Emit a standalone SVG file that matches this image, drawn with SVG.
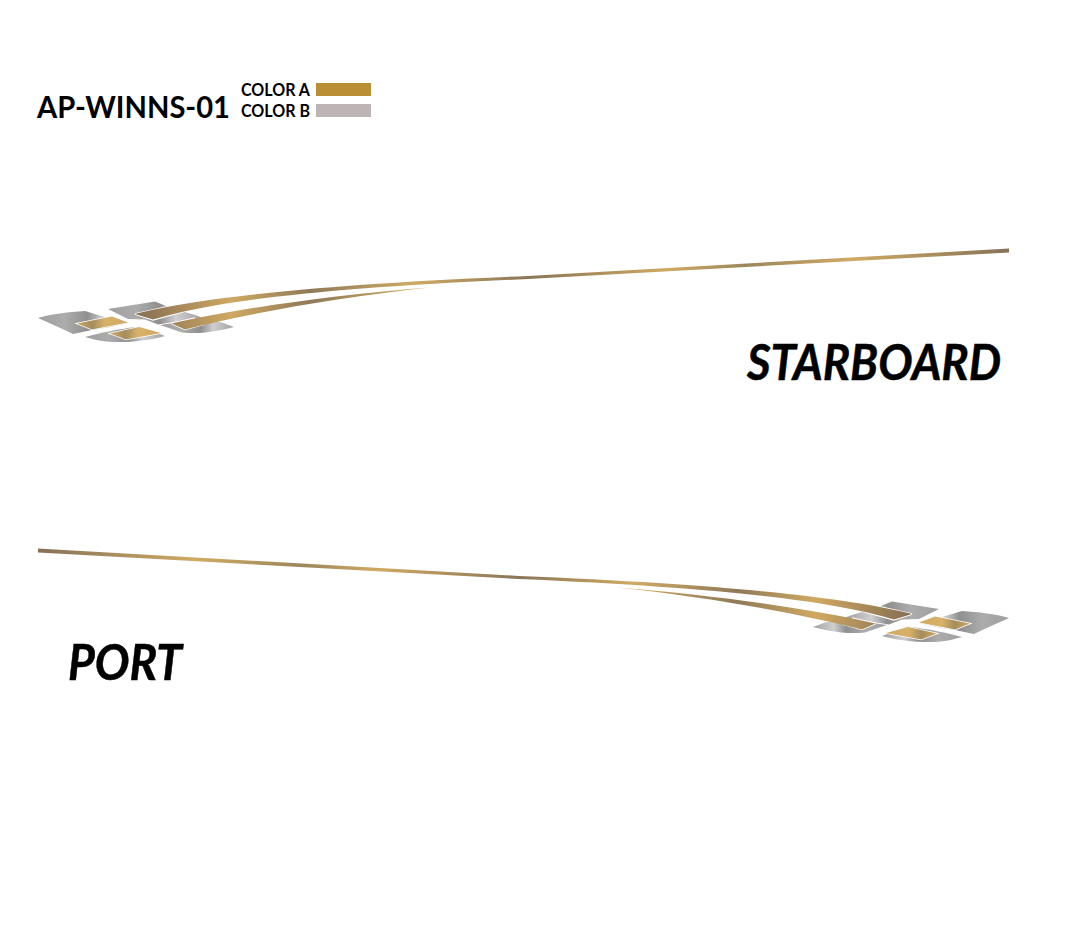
<svg xmlns="http://www.w3.org/2000/svg" xmlns:xlink="http://www.w3.org/1999/xlink" width="1065" height="942" viewBox="0 0 1065 942">
<style>
text{font-family:"Lato","Open Sans","Liberation Sans",sans-serif;font-weight:700;fill:#000}
.big{font-size:50px;font-style:italic;font-weight:700;stroke:#000;stroke-width:.5}
.silver{fill:url(#silver)}
.gold{fill:url(#gold)}
.outline{fill:none;stroke:#fff;stroke-width:1.6}
.inlay{fill:url(#inlay);stroke:#fff;stroke-width:1.6;paint-order:stroke}
</style>
<defs>
<linearGradient id="silver" x1="0" y1="0" x2="1" y2="0">
<stop offset="0" stop-color="#9e9e9e"/><stop offset=".3" stop-color="#acacac"/><stop offset=".55" stop-color="#8f8f8f"/><stop offset=".72" stop-color="#cfcfcf"/><stop offset="1" stop-color="#a0a0a0"/>
</linearGradient>
<linearGradient id="inlay" x1="0" y1="0" x2="1" y2="0">
<stop offset="0" stop-color="#cfa962"/><stop offset=".3" stop-color="#a58c5e"/><stop offset=".55" stop-color="#d8b268"/><stop offset="1" stop-color="#cfa962"/>
</linearGradient>
<linearGradient id="gold" gradientUnits="userSpaceOnUse" x1="135" y1="0" x2="1009" y2="0">
<stop offset="0" stop-color="#836d53"/><stop offset=".11" stop-color="#cfa962"/><stop offset=".2" stop-color="#8f7a58"/><stop offset=".32" stop-color="#d0aa63"/><stop offset=".45" stop-color="#8a7558"/><stop offset=".61" stop-color="#cfa962"/><stop offset=".7" stop-color="#9c865c"/><stop offset=".82" stop-color="#d0aa62"/><stop offset="1" stop-color="#85725a"/>
</linearGradient>
<g id="graphic">
<path class="silver" d="M38 318 C52 314 68 312 85 311 L105 317 L128 323 L108 327.5 L92 330 L73 334 C62 329 50 323 38 318Z"/>
<path class="silver" d="M85 337 C100 333 118 329 140 326.5 L165 336 C150 340 135 342 118 342 C105 342 95 340 85 337Z"/>
<path class="silver" d="M108 309 L155 301.5 L170 307.5 L195 315 L202 317.5 L158 324.5 L145 319.5 L128 319Z"/>
<path class="silver" d="M160 325 L202 319 L222 322.5 L234 327 C218 331 205 333 195 333 C190 333 186 333 182 332.5Z"/>
<path class="outline" d="M135 314 L153 320 L200 307 M171.5 323.5 L185 329.5 L205 324 M171.5 323.5 L195 318 M135 314 L175 305"/>
<path class="gold" d="M135 314 C190 300 300 285 528 276 L1009 248.5 L1009 252.5 L528 279 C320 288 215 301 153 319.5Z"/>
<path class="gold" d="M171.5 323.5 C230 310 330 295 430 287.5 C340 297 250 313 185 329.5Z"/>
<path class="inlay" d="M77 323.5 L112 316.5 L128 322.5 L92 329.5Z"/>
<path class="inlay" d="M110 333.5 L139 327 L161 333 L126 339.5Z"/>
</g>
</defs>
<g id="legend">
<text x="37" y="118" font-size="30" textLength="193" lengthAdjust="spacingAndGlyphs">AP-WINNS-01</text>
<text x="241" y="95.500" font-size="16.500" textLength="69" lengthAdjust="spacingAndGlyphs">COLOR A</text>
<text x="241" y="116.500" font-size="16.500" textLength="69" lengthAdjust="spacingAndGlyphs">COLOR B</text>
<rect x="316" y="83" width="55" height="13" fill="#ba8e35"/>
<rect x="316" y="104" width="55" height="13" fill="#bdb5b5"/>
</g>
<g id="starboard">
<use xlink:href="#graphic" href="#graphic"/>
<text class="big" x="747" y="380" textLength="254" lengthAdjust="spacingAndGlyphs">STARBOARD</text>
</g>
<g id="port">
<use xlink:href="#graphic" href="#graphic" transform="translate(1047 300) scale(-1 1)"/>
<text class="big" x="68" y="680" textLength="114" lengthAdjust="spacingAndGlyphs">PORT</text>
</g>
</svg>
